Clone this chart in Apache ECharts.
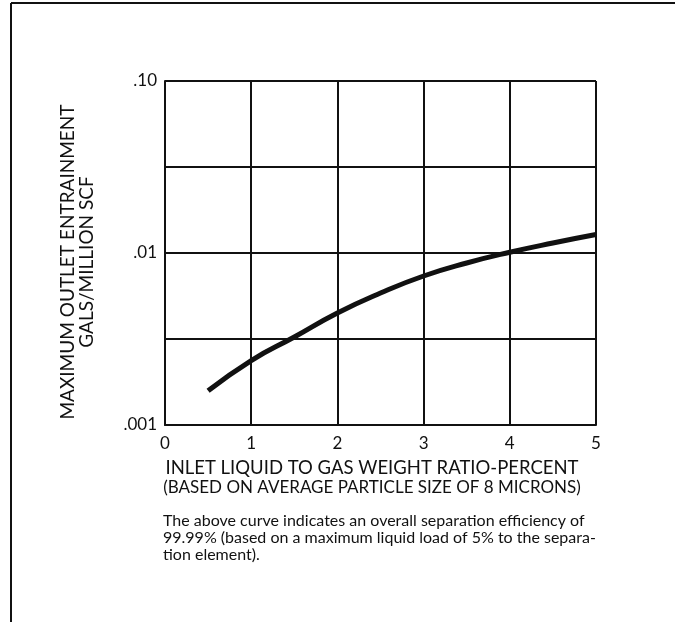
<!DOCTYPE html>
<html>
<head>
<meta charset="utf-8">
<script src="https://cdn.jsdelivr.net/npm/echarts@6/dist/echarts.min.js"></script>
<style>
  html, body { margin: 0; padding: 0; background: #fff; }
  #chart { width: 675px; height: 622px; }
</style>
</head>
<body>
<div id="chart"></div>
<script>
// curve (x = weight ratio %, y = gals / million scf)
var ratioX = [0.5, 1, 1.5, 2, 2.5, 3, 3.5, 4, 4.5, 5];
var entrainY = [0.00158, 0.00237, 0.00325, 0.00448, 0.00585, 0.00735, 0.00875, 0.0101, 0.01143, 0.0128];
var xTicks = [0, 1, 2, 3, 4, 5];
var yTickLabels = { '-3': '.001', '-2': '.01', '-1': '.10' };
var yTitle = ['MAXIMUM OUTLET ENTRAINMENT', 'GALS/MILLION SCF'];
var xTitle = ['INLET LIQUID TO GAS WEIGHT RATIO-PERCENT', '(BASED ON AVERAGE PARTICLE SIZE OF 8 MICRONS)'];
var note = [
    'The above curve indicates an overall separation efficiency of',
    '99.99% (based on a maximum liquid load of 5% to the separa-',
    'tion element).'
];

var font = 'Lato, "Open Sans", sans-serif';
var ink = '#111';

var chart = echarts.init(document.getElementById('chart'));

var points = [];
for (var i = 0; i < ratioX.length; i++) {
    points.push([ratioX[i], entrainY[i]]);
}

var option = {
    backgroundColor: '#fff',
    animation: false,
    grid: { left: 165, right: 79, top: 81, bottom: 197 },
    xAxis: {
        type: 'value',
        min: xTicks[0],
        max: xTicks[xTicks.length - 1],
        interval: 1,
        axisLine: { show: true, lineStyle: { color: ink, width: 2 } },
        axisTick: { show: false },
        axisLabel: { color: ink, fontSize: 17, fontFamily: font, margin: 10 },
        splitLine: { show: true, lineStyle: { color: ink, width: 2 } }
    },
    yAxis: {
        type: 'log',
        // half decade grid: base sqrt(10), labels only on whole decades
        logBase: Math.sqrt(10),
        min: 0.001,
        max: 0.1,
        splitNumber: 4,
        axisLine: { show: true, lineStyle: { color: ink, width: 2 } },
        axisTick: { show: false },
        axisLabel: {
            color: ink, fontSize: 17, fontFamily: font, margin: 8,
            formatter: function (v) {
                var e = Math.log(v) / Math.LN10;
                var r = Math.round(e);
                if (Math.abs(e - r) > 1e-6) return '';
                return yTickLabels[r] || '';
            }
        },
        splitLine: { show: true, lineStyle: { color: ink, width: 2 } }
    },
    series: [{
        type: 'line',
        data: points,
        smooth: true,
        symbol: 'none',
        lineStyle: { color: ink, width: 5 }
    }],
    graphic: [
        // page frame
        { type: 'line', shape: { x1: 11, y1: 3, x2: 11, y2: 622 }, style: { stroke: ink, lineWidth: 2 } },
        { type: 'line', shape: { x1: 11, y1: 3, x2: 675, y2: 3 }, style: { stroke: ink, lineWidth: 2 } },
        // y title
        {
            type: 'text', x: 68, y: 262, rotation: Math.PI / 2,
            style: { text: yTitle[0], font: '19px ' + font, fill: ink, align: 'center', verticalAlign: 'middle' }
        },
        {
            type: 'text', x: 87, y: 262, rotation: Math.PI / 2,
            style: { text: yTitle[1], font: '19px ' + font, fill: ink, align: 'center', verticalAlign: 'middle' }
        },
        // x title
        {
            type: 'text', x: 372, y: 468,
            style: { text: xTitle[0], font: '18.5px ' + font, fill: ink, align: 'center', verticalAlign: 'middle' }
        },
        {
            type: 'text', x: 372, y: 488,
            style: { text: xTitle[1], font: '17px ' + font, fill: ink, align: 'center', verticalAlign: 'middle' }
        },
        // note
        {
            type: 'text', x: 163, y: 521,
            style: { text: note[0], font: '16px ' + font, fill: ink, verticalAlign: 'middle' }
        },
        {
            type: 'text', x: 163, y: 538,
            style: { text: note[1], font: '16px ' + font, fill: ink, verticalAlign: 'middle' }
        },
        {
            type: 'text', x: 163, y: 555,
            style: { text: note[2], font: '16px ' + font, fill: ink, verticalAlign: 'middle' }
        }
    ]
};

chart.setOption(option);
</script>
</body>
</html>
